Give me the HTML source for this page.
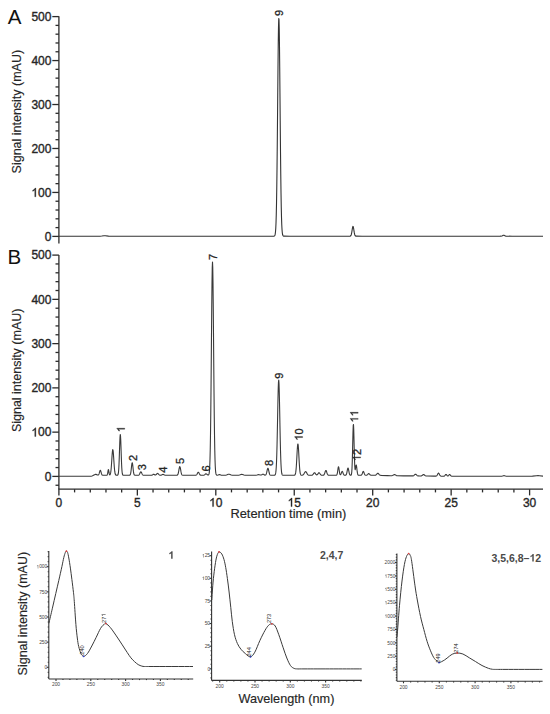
<!DOCTYPE html>
<html><head><meta charset="utf-8"><style>
html,body{margin:0;padding:0;background:#fff;}
svg{display:block;font-family:"Liberation Sans",sans-serif;}
</style></head><body>
<svg width="550" height="714" viewBox="0 0 550 714" font-family="'Liberation Sans', sans-serif">
<rect width="550" height="714" fill="#fff"/>
<!-- panel letters -->
<g fill="#111" font-size="19.4">
<text transform="translate(7.7,24.1) scale(1.06,1)">A</text>
<text transform="translate(7.4,264.1) scale(1.06,1)">B</text>
</g>
<!-- axis titles -->
<g fill="#262626" stroke="#262626" stroke-width="0.15" font-size="12">
<text transform="translate(21.0,173.4) rotate(-90)" textLength="123.5" lengthAdjust="spacingAndGlyphs">Signal intensity (mAU)</text>
<text transform="translate(21.0,432.1) rotate(-90)" textLength="123.5" lengthAdjust="spacingAndGlyphs">Signal intensity (mAU)</text>
<text x="230.4" y="517.5" textLength="116" lengthAdjust="spacingAndGlyphs">Retention time (min)</text>
<text transform="translate(27.3,675.4) rotate(-90)" textLength="123.5" lengthAdjust="spacingAndGlyphs">Signal intensity (mAU)</text>
<text x="238.4" y="702.7" font-size="12.4" textLength="96" lengthAdjust="spacingAndGlyphs">Wavelength (nm)</text>
</g>
<!-- main axes -->
<g stroke="#2b2b2b" stroke-width="1.3" fill="none">
<line x1="58.9" y1="16.3" x2="58.9" y2="243.5"/>
<line x1="52.3" y1="236.4" x2="58.9" y2="236.4"/>
<line x1="55.5" y1="227.61" x2="58.9" y2="227.61"/>
<line x1="55.5" y1="218.82" x2="58.9" y2="218.82"/>
<line x1="55.5" y1="210.02" x2="58.9" y2="210.02"/>
<line x1="55.5" y1="201.23" x2="58.9" y2="201.23"/>
<line x1="52.3" y1="192.44" x2="58.9" y2="192.44"/>
<line x1="55.5" y1="183.65" x2="58.9" y2="183.65"/>
<line x1="55.5" y1="174.86" x2="58.9" y2="174.86"/>
<line x1="55.5" y1="166.06" x2="58.9" y2="166.06"/>
<line x1="55.5" y1="157.27" x2="58.9" y2="157.27"/>
<line x1="52.3" y1="148.48" x2="58.9" y2="148.48"/>
<line x1="55.5" y1="139.69" x2="58.9" y2="139.69"/>
<line x1="55.5" y1="130.9" x2="58.9" y2="130.9"/>
<line x1="55.5" y1="122.1" x2="58.9" y2="122.1"/>
<line x1="55.5" y1="113.31" x2="58.9" y2="113.31"/>
<line x1="52.3" y1="104.52" x2="58.9" y2="104.52"/>
<line x1="55.5" y1="95.73" x2="58.9" y2="95.73"/>
<line x1="55.5" y1="86.94" x2="58.9" y2="86.94"/>
<line x1="55.5" y1="78.14" x2="58.9" y2="78.14"/>
<line x1="55.5" y1="69.35" x2="58.9" y2="69.35"/>
<line x1="52.3" y1="60.56" x2="58.9" y2="60.56"/>
<line x1="55.5" y1="51.77" x2="58.9" y2="51.77"/>
<line x1="55.5" y1="42.98" x2="58.9" y2="42.98"/>
<line x1="55.5" y1="34.18" x2="58.9" y2="34.18"/>
<line x1="55.5" y1="25.39" x2="58.9" y2="25.39"/>
<line x1="52.3" y1="16.6" x2="58.9" y2="16.6"/>
<line x1="58.9" y1="255.1" x2="58.9" y2="489.2"/>
<line x1="55.5" y1="485.25" x2="58.9" y2="485.25"/>
<line x1="52.3" y1="476.4" x2="58.9" y2="476.4"/>
<line x1="55.5" y1="467.55" x2="58.9" y2="467.55"/>
<line x1="55.5" y1="458.7" x2="58.9" y2="458.7"/>
<line x1="55.5" y1="449.84" x2="58.9" y2="449.84"/>
<line x1="55.5" y1="440.99" x2="58.9" y2="440.99"/>
<line x1="52.3" y1="432.14" x2="58.9" y2="432.14"/>
<line x1="55.5" y1="423.29" x2="58.9" y2="423.29"/>
<line x1="55.5" y1="414.44" x2="58.9" y2="414.44"/>
<line x1="55.5" y1="405.58" x2="58.9" y2="405.58"/>
<line x1="55.5" y1="396.73" x2="58.9" y2="396.73"/>
<line x1="52.3" y1="387.88" x2="58.9" y2="387.88"/>
<line x1="55.5" y1="379.03" x2="58.9" y2="379.03"/>
<line x1="55.5" y1="370.18" x2="58.9" y2="370.18"/>
<line x1="55.5" y1="361.32" x2="58.9" y2="361.32"/>
<line x1="55.5" y1="352.47" x2="58.9" y2="352.47"/>
<line x1="52.3" y1="343.62" x2="58.9" y2="343.62"/>
<line x1="55.5" y1="334.77" x2="58.9" y2="334.77"/>
<line x1="55.5" y1="325.92" x2="58.9" y2="325.92"/>
<line x1="55.5" y1="317.06" x2="58.9" y2="317.06"/>
<line x1="55.5" y1="308.21" x2="58.9" y2="308.21"/>
<line x1="52.3" y1="299.36" x2="58.9" y2="299.36"/>
<line x1="55.5" y1="290.51" x2="58.9" y2="290.51"/>
<line x1="55.5" y1="281.66" x2="58.9" y2="281.66"/>
<line x1="55.5" y1="272.8" x2="58.9" y2="272.8"/>
<line x1="55.5" y1="263.95" x2="58.9" y2="263.95"/>
<line x1="52.3" y1="255.1" x2="58.9" y2="255.1"/>
<line x1="58.3" y1="489.2" x2="543" y2="489.2"/>
<line x1="58.9" y1="489.2" x2="58.9" y2="495.4"/>
<line x1="74.59" y1="489.2" x2="74.59" y2="492.4"/>
<line x1="90.28" y1="489.2" x2="90.28" y2="492.4"/>
<line x1="105.97" y1="489.2" x2="105.97" y2="492.4"/>
<line x1="121.66" y1="489.2" x2="121.66" y2="492.4"/>
<line x1="137.35" y1="489.2" x2="137.35" y2="495.4"/>
<line x1="153.04" y1="489.2" x2="153.04" y2="492.4"/>
<line x1="168.73" y1="489.2" x2="168.73" y2="492.4"/>
<line x1="184.42" y1="489.2" x2="184.42" y2="492.4"/>
<line x1="200.11" y1="489.2" x2="200.11" y2="492.4"/>
<line x1="215.8" y1="489.2" x2="215.8" y2="495.4"/>
<line x1="231.49" y1="489.2" x2="231.49" y2="492.4"/>
<line x1="247.18" y1="489.2" x2="247.18" y2="492.4"/>
<line x1="262.87" y1="489.2" x2="262.87" y2="492.4"/>
<line x1="278.56" y1="489.2" x2="278.56" y2="492.4"/>
<line x1="294.25" y1="489.2" x2="294.25" y2="495.4"/>
<line x1="309.94" y1="489.2" x2="309.94" y2="492.4"/>
<line x1="325.63" y1="489.2" x2="325.63" y2="492.4"/>
<line x1="341.32" y1="489.2" x2="341.32" y2="492.4"/>
<line x1="357.01" y1="489.2" x2="357.01" y2="492.4"/>
<line x1="372.7" y1="489.2" x2="372.7" y2="495.4"/>
<line x1="388.39" y1="489.2" x2="388.39" y2="492.4"/>
<line x1="404.08" y1="489.2" x2="404.08" y2="492.4"/>
<line x1="419.77" y1="489.2" x2="419.77" y2="492.4"/>
<line x1="435.46" y1="489.2" x2="435.46" y2="492.4"/>
<line x1="451.15" y1="489.2" x2="451.15" y2="495.4"/>
<line x1="466.84" y1="489.2" x2="466.84" y2="492.4"/>
<line x1="482.53" y1="489.2" x2="482.53" y2="492.4"/>
<line x1="498.22" y1="489.2" x2="498.22" y2="492.4"/>
<line x1="513.91" y1="489.2" x2="513.91" y2="492.4"/>
<line x1="529.6" y1="489.2" x2="529.6" y2="495.4"/>
</g>
<g fill="#262626" stroke="#262626" stroke-width="0.35" font-size="12">
<text x="44.73" y="240.7">0</text>
<path vector-effect="non-scaling-stroke" transform="translate(31.38,196.74) scale(0.00586,-0.00586)" d="M763 0H583V1147Q518 1085 412.5 1023T223 930V1104Q373 1175 485.5 1276T645 1472H763Z"/><text x="38.06" y="196.74">00</text>
<text x="31.38" y="152.78">200</text>
<text x="31.38" y="108.82">300</text>
<text x="31.38" y="64.86">400</text>
<text x="31.38" y="20.9">500</text>
<text x="44.73" y="480.7">0</text>
<path vector-effect="non-scaling-stroke" transform="translate(31.38,436.44) scale(0.00586,-0.00586)" d="M763 0H583V1147Q518 1085 412.5 1023T223 930V1104Q373 1175 485.5 1276T645 1472H763Z"/><text x="38.06" y="436.44">00</text>
<text x="31.38" y="392.18">200</text>
<text x="31.38" y="347.92">300</text>
<text x="31.38" y="303.66">400</text>
<text x="31.38" y="259.4">500</text>
</g>
<g fill="#262626" stroke="#262626" stroke-width="0.35" font-size="12">
<text x="55.56" y="506.6">0</text>
<text x="134.01" y="506.6">5</text>
<path vector-effect="non-scaling-stroke" transform="translate(209.13,506.6) scale(0.00586,-0.00586)" d="M763 0H583V1147Q518 1085 412.5 1023T223 930V1104Q373 1175 485.5 1276T645 1472H763Z"/><text x="215.8" y="506.6">0</text>
<path vector-effect="non-scaling-stroke" transform="translate(287.58,506.6) scale(0.00586,-0.00586)" d="M763 0H583V1147Q518 1085 412.5 1023T223 930V1104Q373 1175 485.5 1276T645 1472H763Z"/><text x="294.25" y="506.6">5</text>
<text x="366.03" y="506.6">20</text>
<text x="444.48" y="506.6">25</text>
<text x="522.93" y="506.6">30</text>
</g>
<!-- traces -->
<path d="M59,236.2 L65.25,236.2 L71.5,236.2 L77.75,236.2 L84,236.2 L90.25,236.2 L96.5,236.2 L100,236.18 L101.75,236.07 L104,235.76 L105.25,235.7 L108.5,236.09 L111,236.19 L117.25,236.2 L123.5,236.2 L129.75,236.2 L136,236.2 L142.25,236.2 L148.5,236.2 L154.75,236.2 L161,236.2 L167.25,236.2 L173.5,236.2 L179.75,236.2 L186,236.2 L192.25,236.2 L198.5,236.2 L204.75,236.2 L211,236.2 L217.25,236.2 L223.5,236.2 L229.75,236.2 L236,236.2 L242.25,236.2 L248.5,236.2 L254.75,236.2 L261,236.2 L267.25,236.2 L273.25,236.2 L274,236.14 L274.25,236.06 L274.5,235.89 L274.75,235.56 L275,234.93 L275.25,233.77 L275.5,231.76 L275.75,228.43 L276,223.18 L276.25,215.3 L276.5,204.09 L276.75,188.95 L277,169.62 L277.25,146.37 L277.5,120.16 L277.75,92.66 L278,66.18 L278.25,43.37 L278.5,26.8 L278.75,18.46 L279,19.4 L279.25,29.51 L279.5,47.51 L279.75,71.27 L280,98.15 L280.25,125.57 L280.5,151.3 L280.75,173.82 L281,192.31 L281.25,206.63 L281.5,217.12 L281.75,224.42 L282,229.23 L282.25,232.25 L282.5,234.06 L282.75,235.09 L283,235.65 L283.25,235.94 L283.75,236.15 L290,236.2 L296.25,236.2 L302.5,236.2 L308.75,236.2 L315,236.2 L321.25,236.2 L327.5,236.2 L333.75,236.2 L340,236.2 L346.25,236.2 L349.5,236.19 L350.25,236.11 L350.5,235.99 L350.75,235.77 L351,235.37 L351.25,234.72 L351.5,233.76 L351.75,232.46 L352,230.91 L352.25,229.27 L352.5,227.8 L352.75,226.77 L353,226.4 L353.25,226.77 L353.5,227.8 L353.75,229.27 L354,230.91 L354.25,232.46 L354.5,233.76 L354.75,234.72 L355,235.37 L355.25,235.77 L355.5,235.99 L356,236.16 L362.25,236.2 L368.5,236.2 L374.75,236.2 L381,236.2 L387.25,236.2 L393.5,236.2 L399.75,236.2 L406,236.2 L412.25,236.2 L418.5,236.2 L424.75,236.2 L431,236.2 L437.25,236.2 L443.5,236.2 L449.75,236.2 L456,236.2 L462.25,236.2 L468.5,236.2 L474.75,236.2 L481,236.2 L487.25,236.2 L493.5,236.2 L499.75,236.2 L501,236.17 L501.75,236.02 L502.5,235.65 L503.25,235.26 L503.75,235.21 L504.25,235.39 L505.25,235.94 L506,236.14 L512.25,236.2 L518.5,236.2 L524.75,236.2 L531,236.2 L537.25,236.2 L543,236.2" fill="none" stroke="#333" stroke-width="1.1" stroke-linejoin="round"/>
<path d="M59,476.3 L65.25,476.3 L71.5,476.3 L77.75,476.3 L84,476.3 L90.25,476.3 L91,476.28 L92,476.01 L93,475.58 L94.5,474.7 L95.25,474.41 L96,474.37 L97.5,474.93 L98,475.01 L98.25,474.96 L98.5,474.8 L98.75,474.46 L99,473.92 L99.25,473.15 L99.75,471.34 L100,470.63 L100.25,470.31 L100.5,470.45 L100.75,471.03 L101,471.89 L101.25,472.83 L101.5,473.68 L101.75,474.33 L102,474.78 L102.25,475.04 L102.75,475.25 L106.25,475.3 L106.75,475.27 L107,475.18 L107.25,474.89 L107.5,474.15 L107.75,472.81 L108,471.09 L108.25,469.75 L108.5,469.61 L108.75,470.75 L109,472.46 L109.25,473.89 L109.5,474.67 L109.75,474.9 L110,474.76 L110.25,474.3 L110.5,473.47 L110.75,472.16 L111,470.21 L111.25,467.57 L111.5,464.26 L111.75,460.49 L112,456.64 L112.25,453.21 L112.5,450.73 L112.75,449.63 L113,450.11 L113.25,452.07 L113.5,455.18 L113.75,458.93 L114,462.79 L114.25,466.32 L114.5,469.24 L114.75,471.46 L115,473.01 L115.25,474.02 L115.5,474.63 L115.75,474.97 L116,475.15 L116.5,475.27 L117.25,475.27 L117.5,475.21 L117.75,475.05 L118,474.64 L118.25,473.77 L118.5,472.05 L118.75,469.04 L119,464.38 L119.25,458.02 L119.75,443.01 L120,437.18 L120.25,434.48 L120.5,435.66 L120.75,440.38 L121,447.41 L121.25,455.09 L121.5,462.02 L121.75,467.39 L122,471.02 L122.25,473.2 L122.5,474.37 L122.75,474.92 L123,475.16 L123.5,475.29 L129,475.3 L129.5,475.26 L129.75,475.18 L130,475.01 L130.25,474.65 L130.5,473.98 L130.75,472.86 L131,471.21 L131.25,469.07 L131.5,466.71 L131.75,464.54 L132,463.09 L132.25,462.72 L132.5,463.56 L132.75,465.35 L133.25,469.98 L133.5,471.94 L133.75,473.37 L134,474.3 L134.25,474.83 L134.5,475.1 L135,475.27 L137.75,475.29 L138.5,475.2 L139,474.92 L139.25,474.65 L139.5,474.26 L140.25,472.6 L140.5,472.13 L140.75,471.85 L141,471.82 L141.25,472.05 L141.5,472.5 L142,473.64 L142.25,474.16 L142.5,474.58 L142.75,474.88 L143.25,475.18 L144,475.29 L150.25,475.3 L151.5,475.26 L152,475.15 L152.5,474.87 L153.25,474.3 L153.5,474.21 L153.75,474.22 L154.25,474.5 L154.75,474.88 L155.25,475.05 L155.75,474.93 L156.25,474.53 L157,473.71 L157.25,473.51 L157.5,473.41 L157.75,473.42 L158,473.55 L158.5,474.03 L159,474.59 L159.5,474.99 L160,475.18 L160.5,475.23 L161,475.16 L161.5,474.97 L162.5,474.42 L163,474.3 L163.5,474.42 L164.5,474.98 L165.25,475.22 L171.5,475.3 L176.25,475.3 L177,475.23 L177.25,475.14 L177.5,474.97 L177.75,474.65 L178,474.12 L178.25,473.33 L178.5,472.23 L178.75,470.89 L179,469.44 L179.25,468.08 L179.5,467.07 L179.75,466.61 L180,466.81 L180.25,467.62 L180.5,468.87 L181,471.72 L181.25,472.92 L181.5,473.84 L181.75,474.47 L182,474.86 L182.25,475.09 L182.75,475.26 L189,475.3 L195,475.3 L195.75,475.24 L196.25,475.07 L196.5,474.88 L196.75,474.6 L197,474.21 L197.75,472.73 L198,472.37 L198.25,472.2 L198.5,472.28 L198.75,472.56 L199.5,474.03 L199.75,474.45 L200,474.78 L200.25,475 L200.75,475.22 L202.25,475.3 L203.25,475.27 L203.75,475.18 L204.25,474.98 L204.75,474.61 L205.5,473.98 L205.75,473.85 L206,473.8 L206.25,473.85 L206.75,474.17 L207.5,474.81 L208,475.05 L208.25,475.06 L208.5,474.95 L208.75,474.63 L209,473.93 L209.25,472.58 L209.5,470.12 L209.75,465.93 L210,459.18 L210.25,448.97 L210.5,434.45 L210.75,415.13 L211,391.12 L211.25,363.46 L211.5,334.2 L211.75,306.24 L212,282.94 L212.25,267.44 L212.5,262 L212.75,267.44 L213,282.94 L213.25,306.24 L213.5,334.2 L213.75,363.46 L214,391.12 L214.25,415.13 L214.5,434.45 L214.75,448.97 L215,459.18 L215.25,465.93 L215.5,470.13 L215.75,472.59 L216,473.95 L216.25,474.66 L216.5,475 L216.75,475.16 L217.25,475.21 L218,475.04 L219,474.65 L219.5,474.6 L220,474.72 L221,475.11 L221.75,475.26 L224.25,475.29 L225.5,475.23 L226.5,475.03 L228.25,474.33 L228.75,474.22 L229.25,474.22 L230,474.42 L231.25,474.94 L232.25,475.19 L234,475.3 L237.25,475.29 L238.5,475.21 L239.5,474.99 L241,474.49 L241.75,474.4 L242.5,474.52 L244,475.02 L245,475.22 L249.5,475.3 L255,475.29 L256,475.23 L257,475.01 L258,474.68 L258.5,474.6 L259.25,474.69 L260.25,475 L260.75,475.07 L261.25,475 L261.75,474.77 L262.5,474.33 L263,474.2 L263.5,474.33 L264.5,474.94 L265,475.11 L265.5,475.05 L265.75,474.87 L266,474.53 L266.25,473.99 L266.5,473.21 L266.75,472.2 L267.25,469.91 L267.5,468.96 L267.75,468.4 L268,468.34 L268.25,468.81 L268.5,469.69 L269,471.98 L269.25,473.03 L269.5,473.86 L269.75,474.45 L270,474.84 L270.25,475.07 L270.75,475.25 L273.75,475.3 L274.5,475.23 L274.75,475.15 L275,474.97 L275.25,474.6 L275.5,473.92 L275.75,472.69 L276,470.61 L276.25,467.32 L276.5,462.4 L276.75,455.5 L277,446.43 L277.25,435.33 L277.5,422.74 L277.75,409.67 L278,397.47 L278.25,387.65 L278.5,381.56 L278.75,380.1 L279,383.48 L279.25,391.2 L279.5,402.15 L279.75,414.87 L280,427.9 L280.25,439.99 L280.5,450.32 L280.75,458.52 L281,464.59 L281.25,468.81 L281.5,471.57 L281.75,473.26 L282,474.24 L282.25,474.78 L282.5,475.06 L283,475.25 L289.25,475.3 L293.75,475.29 L294.5,475.2 L294.75,475.08 L295,474.83 L295.25,474.36 L295.5,473.53 L295.75,472.18 L296,470.12 L296.25,467.23 L296.5,463.48 L296.75,459.04 L297,454.29 L297.25,449.8 L297.5,446.22 L297.75,444.15 L298,443.96 L298.25,445.67 L298.5,448.99 L298.75,453.35 L299,458.1 L299.25,462.64 L299.5,466.54 L299.75,469.61 L300,471.83 L300.25,473.31 L300.5,474.23 L300.75,474.76 L301,475.04 L301.5,475.24 L302.25,475.22 L302.75,475.08 L303.25,474.76 L303.75,474.17 L304.25,473.33 L304.75,472.42 L305,472.03 L305.25,471.75 L305.5,471.61 L305.75,471.63 L306,471.8 L306.25,472.1 L307.25,473.86 L307.75,474.56 L308.25,474.98 L308.75,475.18 L309.75,475.29 L311.25,475.29 L312,475.19 L312.5,474.95 L313,474.46 L313.75,473.34 L314,473.01 L314.25,472.78 L314.5,472.7 L314.75,472.78 L315,473 L315.75,474.1 L316.25,474.68 L316.5,474.83 L316.75,474.89 L317,474.83 L317.25,474.68 L317.75,474.1 L318.25,473.34 L318.5,473 L318.75,472.78 L319,472.7 L319.25,472.78 L319.5,473.01 L320.5,474.46 L321,474.95 L321.5,475.19 L322.25,475.29 L323,475.27 L323.5,475.16 L323.75,475.02 L324,474.77 L324.25,474.39 L324.5,473.84 L324.75,473.13 L325.25,471.52 L325.5,470.86 L325.75,470.47 L326,470.43 L326.25,470.76 L326.5,471.38 L327,472.98 L327.25,473.71 L327.5,474.29 L327.75,474.71 L328,474.98 L328.5,475.22 L334.75,475.3 L336,475.29 L336.5,475.16 L336.75,474.93 L337,474.44 L337.25,473.57 L337.5,472.24 L338,468.71 L338.25,467.33 L338.5,466.8 L338.75,467.32 L339,468.71 L339.25,470.51 L339.5,472.22 L339.75,473.54 L340,474.35 L340.25,474.72 L340.5,474.74 L340.75,474.48 L341,473.99 L341.25,473.32 L341.75,471.89 L342,471.42 L342.25,471.31 L342.5,471.57 L342.75,472.14 L343.25,473.61 L343.5,474.23 L343.75,474.69 L344,474.98 L344.25,475.15 L344.75,475.27 L345.5,475.24 L345.75,475.16 L346,474.98 L346.25,474.63 L346.5,474.04 L346.75,473.15 L347,471.96 L347.5,469.3 L347.75,468.35 L348,468 L348.25,468.35 L348.5,469.3 L349,471.96 L349.25,473.15 L349.5,474.04 L349.75,474.63 L350,474.98 L350.25,475.16 L350.75,475.24 L351,475.15 L351.25,474.84 L351.5,474.01 L351.75,472.11 L352,468.36 L352.25,461.99 L352.5,452.85 L352.75,441.97 L353,431.73 L353.25,425.16 L353.5,424.51 L353.75,430.01 L354,439.7 L354.25,450.54 L354.5,459.84 L354.75,466.11 L355,469.17 L355.25,469.64 L355.5,468.48 L355.75,466.74 L356,465.36 L356.25,465.01 L356.5,465.9 L356.75,467.73 L357,469.94 L357.25,471.96 L357.5,473.46 L357.75,474.41 L358,474.92 L358.25,475.16 L358.75,475.29 L360.5,475.29 L361,475.24 L361.25,475.15 L361.5,474.99 L361.75,474.7 L362,474.26 L362.25,473.65 L362.75,472.22 L363,471.66 L363.25,471.41 L363.5,471.52 L363.75,471.97 L364.25,473.37 L364.5,474.03 L364.75,474.55 L365,474.89 L365.25,475.1 L365.75,475.26 L366.5,475.21 L367,475.01 L367.5,474.6 L368.25,473.8 L368.5,473.64 L368.75,473.6 L369,473.69 L369.5,474.15 L370,474.7 L370.5,475.07 L371,475.24 L374,475.3 L375,475.26 L375.5,475.16 L376,474.9 L376.5,474.44 L377.25,473.58 L377.5,473.39 L377.75,473.3 L378,473.34 L378.25,473.49 L379.25,474.6 L379.75,475 L380.25,475.21 L381.25,475.34 L387.5,475.6 L390.5,475.7 L391.75,475.69 L392.5,475.56 L393,475.33 L394,474.64 L394.5,474.5 L395,474.65 L396,475.36 L396.5,475.6 L397.25,475.74 L403.5,475.83 L409.75,475.9 L412.25,475.91 L413,475.85 L413.5,475.7 L414,475.37 L414.75,474.62 L415.25,474.25 L415.5,474.2 L415.75,474.26 L416.25,474.64 L417,475.4 L417.5,475.74 L418,475.9 L419.75,476 L421,475.96 L421.5,475.85 L422,475.59 L423,474.75 L423.5,474.51 L423.75,474.52 L424.25,474.8 L425,475.47 L425.5,475.8 L426,475.97 L427.5,476.07 L433.75,476.14 L435.5,476.14 L436,476.09 L436.5,475.9 L436.75,475.7 L437,475.4 L437.25,475 L438,473.54 L438.25,473.21 L438.5,473.1 L438.75,473.22 L439,473.55 L439.75,475.02 L440,475.43 L440.25,475.74 L440.75,476.07 L441.5,476.2 L443.5,476.22 L444,476.16 L444.5,475.92 L445,475.4 L445.5,474.73 L445.75,474.49 L446,474.4 L446.25,474.49 L446.5,474.73 L447,475.41 L447.25,475.7 L447.5,475.9 L447.75,475.98 L448,475.96 L448.25,475.81 L448.75,475.26 L449.25,474.66 L449.5,474.51 L449.75,474.53 L450,474.72 L450.75,475.66 L451.25,476.09 L451.75,476.25 L458,476.3 L464.25,476.3 L470.5,476.3 L476.75,476.3 L483,476.3 L489.25,476.3 L495.5,476.3 L500.75,476.3 L501.75,476.24 L502.5,476.07 L503.5,475.68 L504,475.6 L504.5,475.68 L505.5,476.07 L506.25,476.24 L512.5,476.3 L518.75,476.3 L525,476.3 L530.25,476.28 L532.5,476.17 L536.5,475.68 L538,475.6 L539.5,475.68 L542.75,476.1 L543,476.13" fill="none" stroke="#3a3a3a" stroke-width="1.1" stroke-linejoin="round"/>
<g fill="#262626" stroke="#262626" stroke-width="0.3" font-size="11">
<g transform="translate(282.64,15.9) rotate(-90)"><text x="0" y="0">9</text></g>
<g transform="translate(124.74,432.3) rotate(-90)"><path vector-effect="non-scaling-stroke" transform="translate(0,0) scale(0.00537,-0.00537)" d="M763 0H583V1147Q518 1085 412.5 1023T223 930V1104Q373 1175 485.5 1276T645 1472H763Z"/></g>
<g transform="translate(136.54,461) rotate(-90)"><text x="0" y="0">2</text></g>
<g transform="translate(145.74,470.3) rotate(-90)"><text x="0" y="0">3</text></g>
<g transform="translate(167.04,472.8) rotate(-90)"><text x="0" y="0">4</text></g>
<g transform="translate(184.34,464) rotate(-90)"><text x="0" y="0">5</text></g>
<g transform="translate(209.94,471.5) rotate(-90)"><text x="0" y="0">6</text></g>
<g transform="translate(216.84,260.1) rotate(-90)"><text x="0" y="0">7</text></g>
<g transform="translate(272.94,466) rotate(-90)"><text x="0" y="0">8</text></g>
<g transform="translate(283.14,378.7) rotate(-90)"><text x="0" y="0">9</text></g>
<g transform="translate(302.64,440.7) rotate(-90)"><path vector-effect="non-scaling-stroke" transform="translate(0,0) scale(0.00537,-0.00537)" d="M763 0H583V1147Q518 1085 412.5 1023T223 930V1104Q373 1175 485.5 1276T645 1472H763Z"/><text x="6.12" y="0">0</text></g>
<g transform="translate(358.14,422.5) rotate(-90)"><path vector-effect="non-scaling-stroke" transform="translate(0,0) scale(0.00537,-0.00537)" d="M763 0H583V1147Q518 1085 412.5 1023T223 930V1104Q373 1175 485.5 1276T645 1472H763Z"/><path vector-effect="non-scaling-stroke" transform="translate(6.12,0) scale(0.00537,-0.00537)" d="M763 0H583V1147Q518 1085 412.5 1023T223 930V1104Q373 1175 485.5 1276T645 1472H763Z"/></g>
<g transform="translate(360.64,461) rotate(-90)"><path vector-effect="non-scaling-stroke" transform="translate(0,0) scale(0.00537,-0.00537)" d="M763 0H583V1147Q518 1085 412.5 1023T223 930V1104Q373 1175 485.5 1276T645 1472H763Z"/><text x="6.12" y="0">2</text></g>
</g>
<!-- spectra -->
<g stroke="#333" stroke-width="1.1" fill="none">
<line x1="48.8" y1="550.9" x2="48.8" y2="679.0"/>
<line x1="48.8" y1="679.0" x2="193.2" y2="679.0"/>
<line x1="47.699999999999996" y1="677.36" x2="48.8" y2="677.36"/>
<line x1="47.699999999999996" y1="672.33" x2="48.8" y2="672.33"/>
<line x1="46.8" y1="667.3" x2="48.8" y2="667.3"/>
<line x1="47.699999999999996" y1="662.27" x2="48.8" y2="662.27"/>
<line x1="47.699999999999996" y1="657.24" x2="48.8" y2="657.24"/>
<line x1="47.699999999999996" y1="652.21" x2="48.8" y2="652.21"/>
<line x1="47.699999999999996" y1="647.18" x2="48.8" y2="647.18"/>
<line x1="46.8" y1="642.15" x2="48.8" y2="642.15"/>
<line x1="47.699999999999996" y1="637.12" x2="48.8" y2="637.12"/>
<line x1="47.699999999999996" y1="632.09" x2="48.8" y2="632.09"/>
<line x1="47.699999999999996" y1="627.06" x2="48.8" y2="627.06"/>
<line x1="47.699999999999996" y1="622.03" x2="48.8" y2="622.03"/>
<line x1="46.8" y1="617" x2="48.8" y2="617"/>
<line x1="47.699999999999996" y1="611.97" x2="48.8" y2="611.97"/>
<line x1="47.699999999999996" y1="606.94" x2="48.8" y2="606.94"/>
<line x1="47.699999999999996" y1="601.91" x2="48.8" y2="601.91"/>
<line x1="47.699999999999996" y1="596.88" x2="48.8" y2="596.88"/>
<line x1="46.8" y1="591.85" x2="48.8" y2="591.85"/>
<line x1="47.699999999999996" y1="586.82" x2="48.8" y2="586.82"/>
<line x1="47.699999999999996" y1="581.79" x2="48.8" y2="581.79"/>
<line x1="47.699999999999996" y1="576.76" x2="48.8" y2="576.76"/>
<line x1="47.699999999999996" y1="571.73" x2="48.8" y2="571.73"/>
<line x1="46.8" y1="566.7" x2="48.8" y2="566.7"/>
<line x1="47.699999999999996" y1="561.67" x2="48.8" y2="561.67"/>
<line x1="47.699999999999996" y1="556.64" x2="48.8" y2="556.64"/>
<line x1="47.699999999999996" y1="551.61" x2="48.8" y2="551.61"/>
<line x1="56" y1="679.0" x2="56" y2="681"/>
<line x1="62.96" y1="679.0" x2="62.96" y2="680.1"/>
<line x1="69.92" y1="679.0" x2="69.92" y2="680.1"/>
<line x1="76.88" y1="679.0" x2="76.88" y2="680.1"/>
<line x1="83.84" y1="679.0" x2="83.84" y2="680.1"/>
<line x1="90.8" y1="679.0" x2="90.8" y2="681"/>
<line x1="97.76" y1="679.0" x2="97.76" y2="680.1"/>
<line x1="104.72" y1="679.0" x2="104.72" y2="680.1"/>
<line x1="111.68" y1="679.0" x2="111.68" y2="680.1"/>
<line x1="118.64" y1="679.0" x2="118.64" y2="680.1"/>
<line x1="125.6" y1="679.0" x2="125.6" y2="681"/>
<line x1="132.56" y1="679.0" x2="132.56" y2="680.1"/>
<line x1="139.52" y1="679.0" x2="139.52" y2="680.1"/>
<line x1="146.48" y1="679.0" x2="146.48" y2="680.1"/>
<line x1="153.44" y1="679.0" x2="153.44" y2="680.1"/>
<line x1="160.4" y1="679.0" x2="160.4" y2="681"/>
<line x1="167.36" y1="679.0" x2="167.36" y2="680.1"/>
<line x1="174.32" y1="679.0" x2="174.32" y2="680.1"/>
<line x1="181.28" y1="679.0" x2="181.28" y2="680.1"/>
<line x1="188.24" y1="679.0" x2="188.24" y2="680.1"/>
<line x1="211.6" y1="551.6" x2="211.6" y2="680.4"/>
<line x1="211.6" y1="680.4" x2="361.8" y2="680.4"/>
<line x1="210.5" y1="677.85" x2="211.6" y2="677.85"/>
<line x1="210.5" y1="673.32" x2="211.6" y2="673.32"/>
<line x1="209.6" y1="668.8" x2="211.6" y2="668.8"/>
<line x1="210.5" y1="664.28" x2="211.6" y2="664.28"/>
<line x1="210.5" y1="659.75" x2="211.6" y2="659.75"/>
<line x1="210.5" y1="655.23" x2="211.6" y2="655.23"/>
<line x1="210.5" y1="650.7" x2="211.6" y2="650.7"/>
<line x1="209.6" y1="646.18" x2="211.6" y2="646.18"/>
<line x1="210.5" y1="641.66" x2="211.6" y2="641.66"/>
<line x1="210.5" y1="637.13" x2="211.6" y2="637.13"/>
<line x1="210.5" y1="632.61" x2="211.6" y2="632.61"/>
<line x1="210.5" y1="628.08" x2="211.6" y2="628.08"/>
<line x1="209.6" y1="623.56" x2="211.6" y2="623.56"/>
<line x1="210.5" y1="619.04" x2="211.6" y2="619.04"/>
<line x1="210.5" y1="614.51" x2="211.6" y2="614.51"/>
<line x1="210.5" y1="609.99" x2="211.6" y2="609.99"/>
<line x1="210.5" y1="605.46" x2="211.6" y2="605.46"/>
<line x1="209.6" y1="600.94" x2="211.6" y2="600.94"/>
<line x1="210.5" y1="596.42" x2="211.6" y2="596.42"/>
<line x1="210.5" y1="591.89" x2="211.6" y2="591.89"/>
<line x1="210.5" y1="587.37" x2="211.6" y2="587.37"/>
<line x1="210.5" y1="582.84" x2="211.6" y2="582.84"/>
<line x1="209.6" y1="578.32" x2="211.6" y2="578.32"/>
<line x1="210.5" y1="573.8" x2="211.6" y2="573.8"/>
<line x1="210.5" y1="569.27" x2="211.6" y2="569.27"/>
<line x1="210.5" y1="564.75" x2="211.6" y2="564.75"/>
<line x1="210.5" y1="560.22" x2="211.6" y2="560.22"/>
<line x1="209.6" y1="555.7" x2="211.6" y2="555.7"/>
<line x1="212.64" y1="680.4" x2="212.64" y2="681.5"/>
<line x1="219.7" y1="680.4" x2="219.7" y2="682.4"/>
<line x1="226.76" y1="680.4" x2="226.76" y2="681.5"/>
<line x1="233.82" y1="680.4" x2="233.82" y2="681.5"/>
<line x1="240.88" y1="680.4" x2="240.88" y2="681.5"/>
<line x1="247.94" y1="680.4" x2="247.94" y2="681.5"/>
<line x1="255" y1="680.4" x2="255" y2="682.4"/>
<line x1="262.06" y1="680.4" x2="262.06" y2="681.5"/>
<line x1="269.12" y1="680.4" x2="269.12" y2="681.5"/>
<line x1="276.18" y1="680.4" x2="276.18" y2="681.5"/>
<line x1="283.24" y1="680.4" x2="283.24" y2="681.5"/>
<line x1="290.3" y1="680.4" x2="290.3" y2="682.4"/>
<line x1="297.36" y1="680.4" x2="297.36" y2="681.5"/>
<line x1="304.42" y1="680.4" x2="304.42" y2="681.5"/>
<line x1="311.48" y1="680.4" x2="311.48" y2="681.5"/>
<line x1="318.54" y1="680.4" x2="318.54" y2="681.5"/>
<line x1="325.6" y1="680.4" x2="325.6" y2="682.4"/>
<line x1="332.66" y1="680.4" x2="332.66" y2="681.5"/>
<line x1="339.72" y1="680.4" x2="339.72" y2="681.5"/>
<line x1="346.78" y1="680.4" x2="346.78" y2="681.5"/>
<line x1="353.84" y1="680.4" x2="353.84" y2="681.5"/>
<line x1="360.9" y1="680.4" x2="360.9" y2="681.5"/>
<line x1="396.9" y1="553.4" x2="396.9" y2="681.3"/>
<line x1="396.9" y1="681.3" x2="542.6" y2="681.3"/>
<line x1="395.79999999999995" y1="680.3" x2="396.9" y2="680.3"/>
<line x1="395.79999999999995" y1="677.63" x2="396.9" y2="677.63"/>
<line x1="395.79999999999995" y1="674.95" x2="396.9" y2="674.95"/>
<line x1="395.79999999999995" y1="672.28" x2="396.9" y2="672.28"/>
<line x1="394.9" y1="669.6" x2="396.9" y2="669.6"/>
<line x1="395.79999999999995" y1="666.92" x2="396.9" y2="666.92"/>
<line x1="395.79999999999995" y1="664.25" x2="396.9" y2="664.25"/>
<line x1="395.79999999999995" y1="661.57" x2="396.9" y2="661.57"/>
<line x1="395.79999999999995" y1="658.9" x2="396.9" y2="658.9"/>
<line x1="394.9" y1="656.22" x2="396.9" y2="656.22"/>
<line x1="395.79999999999995" y1="653.54" x2="396.9" y2="653.54"/>
<line x1="395.79999999999995" y1="650.87" x2="396.9" y2="650.87"/>
<line x1="395.79999999999995" y1="648.19" x2="396.9" y2="648.19"/>
<line x1="395.79999999999995" y1="645.52" x2="396.9" y2="645.52"/>
<line x1="394.9" y1="642.84" x2="396.9" y2="642.84"/>
<line x1="395.79999999999995" y1="640.16" x2="396.9" y2="640.16"/>
<line x1="395.79999999999995" y1="637.49" x2="396.9" y2="637.49"/>
<line x1="395.79999999999995" y1="634.81" x2="396.9" y2="634.81"/>
<line x1="395.79999999999995" y1="632.14" x2="396.9" y2="632.14"/>
<line x1="394.9" y1="629.46" x2="396.9" y2="629.46"/>
<line x1="395.79999999999995" y1="626.78" x2="396.9" y2="626.78"/>
<line x1="395.79999999999995" y1="624.11" x2="396.9" y2="624.11"/>
<line x1="395.79999999999995" y1="621.43" x2="396.9" y2="621.43"/>
<line x1="395.79999999999995" y1="618.76" x2="396.9" y2="618.76"/>
<line x1="394.9" y1="616.08" x2="396.9" y2="616.08"/>
<line x1="395.79999999999995" y1="613.4" x2="396.9" y2="613.4"/>
<line x1="395.79999999999995" y1="610.73" x2="396.9" y2="610.73"/>
<line x1="395.79999999999995" y1="608.05" x2="396.9" y2="608.05"/>
<line x1="395.79999999999995" y1="605.38" x2="396.9" y2="605.38"/>
<line x1="394.9" y1="602.7" x2="396.9" y2="602.7"/>
<line x1="395.79999999999995" y1="600.02" x2="396.9" y2="600.02"/>
<line x1="395.79999999999995" y1="597.35" x2="396.9" y2="597.35"/>
<line x1="395.79999999999995" y1="594.67" x2="396.9" y2="594.67"/>
<line x1="395.79999999999995" y1="592" x2="396.9" y2="592"/>
<line x1="394.9" y1="589.32" x2="396.9" y2="589.32"/>
<line x1="395.79999999999995" y1="586.64" x2="396.9" y2="586.64"/>
<line x1="395.79999999999995" y1="583.97" x2="396.9" y2="583.97"/>
<line x1="395.79999999999995" y1="581.29" x2="396.9" y2="581.29"/>
<line x1="395.79999999999995" y1="578.62" x2="396.9" y2="578.62"/>
<line x1="394.9" y1="575.94" x2="396.9" y2="575.94"/>
<line x1="395.79999999999995" y1="573.26" x2="396.9" y2="573.26"/>
<line x1="395.79999999999995" y1="570.59" x2="396.9" y2="570.59"/>
<line x1="395.79999999999995" y1="567.91" x2="396.9" y2="567.91"/>
<line x1="395.79999999999995" y1="565.24" x2="396.9" y2="565.24"/>
<line x1="394.9" y1="562.56" x2="396.9" y2="562.56"/>
<line x1="395.79999999999995" y1="559.88" x2="396.9" y2="559.88"/>
<line x1="395.79999999999995" y1="557.21" x2="396.9" y2="557.21"/>
<line x1="395.79999999999995" y1="554.53" x2="396.9" y2="554.53"/>
<line x1="403.5" y1="681.3" x2="403.5" y2="683.3"/>
<line x1="410.66" y1="681.3" x2="410.66" y2="682.4"/>
<line x1="417.82" y1="681.3" x2="417.82" y2="682.4"/>
<line x1="424.98" y1="681.3" x2="424.98" y2="682.4"/>
<line x1="432.14" y1="681.3" x2="432.14" y2="682.4"/>
<line x1="439.3" y1="681.3" x2="439.3" y2="683.3"/>
<line x1="446.46" y1="681.3" x2="446.46" y2="682.4"/>
<line x1="453.62" y1="681.3" x2="453.62" y2="682.4"/>
<line x1="460.78" y1="681.3" x2="460.78" y2="682.4"/>
<line x1="467.94" y1="681.3" x2="467.94" y2="682.4"/>
<line x1="475.1" y1="681.3" x2="475.1" y2="683.3"/>
<line x1="482.26" y1="681.3" x2="482.26" y2="682.4"/>
<line x1="489.42" y1="681.3" x2="489.42" y2="682.4"/>
<line x1="496.58" y1="681.3" x2="496.58" y2="682.4"/>
<line x1="503.74" y1="681.3" x2="503.74" y2="682.4"/>
<line x1="510.9" y1="681.3" x2="510.9" y2="683.3"/>
<line x1="518.06" y1="681.3" x2="518.06" y2="682.4"/>
<line x1="525.22" y1="681.3" x2="525.22" y2="682.4"/>
<line x1="532.38" y1="681.3" x2="532.38" y2="682.4"/>
<line x1="539.54" y1="681.3" x2="539.54" y2="682.4"/>
</g>
<g fill="#444" font-size="4.9">
<text x="44.58" y="669.05">0</text>
<text x="39.13" y="643.9">250</text>
<text x="39.13" y="618.75">500</text>
<text x="39.13" y="593.6">750</text>
<path vector-effect="non-scaling-stroke" transform="translate(36.4,568.45) scale(0.00239,-0.00239)" d="M763 0H583V1147Q518 1085 412.5 1023T223 930V1104Q373 1175 485.5 1276T645 1472H763Z"/><text x="39.13" y="568.45">000</text>
<text x="51.91" y="686.3">200</text>
<text x="86.71" y="686.3">250</text>
<text x="121.51" y="686.3">300</text>
<text x="156.31" y="686.3">350</text>
<text x="207.38" y="670.55">0</text>
<text x="204.65" y="647.93">25</text>
<text x="204.65" y="625.31">50</text>
<text x="204.65" y="602.69">75</text>
<path vector-effect="non-scaling-stroke" transform="translate(201.93,580.07) scale(0.00239,-0.00239)" d="M763 0H583V1147Q518 1085 412.5 1023T223 930V1104Q373 1175 485.5 1276T645 1472H763Z"/><text x="204.65" y="580.07">00</text>
<path vector-effect="non-scaling-stroke" transform="translate(201.93,557.45) scale(0.00239,-0.00239)" d="M763 0H583V1147Q518 1085 412.5 1023T223 930V1104Q373 1175 485.5 1276T645 1472H763Z"/><text x="204.65" y="557.45">25</text>
<text x="215.61" y="687.7">200</text>
<text x="250.91" y="687.7">250</text>
<text x="286.21" y="687.7">300</text>
<text x="321.51" y="687.7">350</text>
<text x="392.68" y="671.35">0</text>
<text x="387.23" y="657.97">250</text>
<text x="387.23" y="644.59">500</text>
<text x="387.23" y="631.21">750</text>
<path vector-effect="non-scaling-stroke" transform="translate(384.5,617.83) scale(0.00239,-0.00239)" d="M763 0H583V1147Q518 1085 412.5 1023T223 930V1104Q373 1175 485.5 1276T645 1472H763Z"/><text x="387.23" y="617.83">000</text>
<path vector-effect="non-scaling-stroke" transform="translate(384.5,604.45) scale(0.00239,-0.00239)" d="M763 0H583V1147Q518 1085 412.5 1023T223 930V1104Q373 1175 485.5 1276T645 1472H763Z"/><text x="387.23" y="604.45">250</text>
<path vector-effect="non-scaling-stroke" transform="translate(384.5,591.07) scale(0.00239,-0.00239)" d="M763 0H583V1147Q518 1085 412.5 1023T223 930V1104Q373 1175 485.5 1276T645 1472H763Z"/><text x="387.23" y="591.07">500</text>
<path vector-effect="non-scaling-stroke" transform="translate(384.5,577.69) scale(0.00239,-0.00239)" d="M763 0H583V1147Q518 1085 412.5 1023T223 930V1104Q373 1175 485.5 1276T645 1472H763Z"/><text x="387.23" y="577.69">750</text>
<text x="384.5" y="564.31">2000</text>
<text x="399.41" y="688.6">200</text>
<text x="435.21" y="688.6">250</text>
<text x="471.01" y="688.6">300</text>
<text x="506.81" y="688.6">350</text>
</g>
<g fill="none" stroke="#3a3a3a" stroke-width="1.0" stroke-linejoin="round">
<path d="M48.9,623.3 C49.48,620.78 51.25,613.18 52.4,608.2 C53.55,603.22 54.73,598.03 55.8,593.4 C56.87,588.77 57.78,584.87 58.8,580.4 C59.82,575.93 61.07,570.42 61.9,566.6 C62.73,562.78 63.23,559.83 63.8,557.5 C64.37,555.17 64.87,553.67 65.3,552.6 C65.73,551.53 66.02,551.12 66.4,551.1 C66.78,551.08 67.2,551.35 67.6,552.5 C68,553.65 68.33,555.4 68.8,558 C69.27,560.6 69.88,564.5 70.4,568.1 C70.92,571.7 71.38,575.5 71.9,579.6 C72.42,583.7 73.1,589.05 73.5,592.7 C73.9,596.35 73.9,596.2 74.3,601.5 C74.7,606.8 75.4,618.42 75.9,624.5 C76.4,630.58 76.83,634.33 77.3,638 C77.77,641.67 78.1,643.97 78.7,646.5 C79.3,649.03 80.08,651.57 80.9,653.2 C81.72,654.83 82.52,656.23 83.6,656.3 C84.68,656.37 86.03,655.32 87.4,653.6 C88.77,651.88 90.33,648.72 91.8,646 C93.27,643.28 94.75,640.22 96.2,637.3 C97.65,634.38 99.23,630.62 100.5,628.5 C101.77,626.38 102.88,625.42 103.8,624.6 C104.72,623.78 104.92,623.12 106,623.6 C107.08,624.08 108.67,625.58 110.3,627.5 C111.93,629.42 113.8,632.2 115.8,635.1 C117.8,638 120.38,641.98 122.3,644.9 C124.22,647.82 125.87,650.45 127.3,652.6 C128.73,654.75 129.7,656.3 130.9,657.8 C132.1,659.3 133.28,660.47 134.5,661.6 C135.72,662.73 136.98,663.85 138.2,664.6 C139.42,665.35 140.75,665.78 141.8,666.1 C142.85,666.42 143.13,666.43 144.5,666.5 C145.87,666.57 141.92,666.5 150,666.5 C158.08,666.5 185.83,666.5 193,666.5"/>
<path d="M211.8,600 C211.88,598.67 212.03,595.57 212.3,592 C212.57,588.43 212.93,583.07 213.4,578.6 C213.87,574.13 214.53,568.93 215.1,565.2 C215.67,561.47 216.15,558.42 216.8,556.2 C217.45,553.98 218.17,552.27 219,551.9 C219.83,551.53 220.97,552.72 221.8,554 C222.63,555.28 223.35,557.37 224,559.6 C224.65,561.83 225.13,564.23 225.7,567.4 C226.27,570.57 226.83,574.5 227.4,578.6 C227.97,582.7 228.53,587.15 229.1,592 C229.67,596.85 230.27,602.77 230.8,607.7 C231.33,612.63 231.68,617.1 232.3,621.6 C232.92,626.1 233.65,631.05 234.5,634.7 C235.35,638.35 236.32,641.07 237.4,643.5 C238.48,645.93 239.67,647.62 241,649.3 C242.33,650.98 243.82,652.35 245.4,653.6 C246.98,654.85 248.93,657.03 250.5,656.8 C252.07,656.57 253.23,654.92 254.8,652.2 C256.37,649.48 258.2,644.13 259.9,640.5 C261.6,636.87 263.55,632.93 265,630.4 C266.45,627.87 267.47,626.4 268.6,625.3 C269.73,624.2 270.7,623.68 271.8,623.8 C272.9,623.92 274.03,624.18 275.2,626 C276.37,627.82 277.47,631.07 278.8,634.7 C280.13,638.33 281.87,643.92 283.2,647.8 C284.53,651.68 285.58,655.03 286.8,658 C288.02,660.97 289.28,663.87 290.5,665.6 C291.72,667.33 292.9,667.85 294.1,668.4 C295.3,668.95 295.88,668.82 297.7,668.9 C299.52,668.98 294.33,668.9 305,668.9 C315.67,668.9 352.25,668.9 361.7,668.9"/>
<path d="M397,637 C397.1,635.83 397.18,635.25 397.6,630 C398.02,624.75 398.77,613.67 399.5,605.5 C400.23,597.33 401.18,587.83 402,581 C402.82,574.17 403.65,568.58 404.4,564.5 C405.15,560.42 405.8,558.32 406.5,556.5 C407.2,554.68 407.97,553.77 408.6,553.6 C409.23,553.43 409.78,554.22 410.3,555.5 C410.82,556.78 410.92,556.25 411.7,561.3 C412.48,566.35 414.07,579.35 415,585.8 C415.93,592.25 416.38,594.9 417.3,600 C418.22,605.1 419.42,611.5 420.5,616.4 C421.58,621.3 422.7,625.23 423.8,629.4 C424.9,633.57 426.02,637.93 427.1,641.4 C428.18,644.87 429.22,647.55 430.3,650.2 C431.38,652.85 432.5,655.48 433.6,657.3 C434.7,659.12 435.98,660.22 436.9,661.1 C437.82,661.98 437.83,662.78 439.1,662.6 C440.37,662.42 442.78,661.07 444.5,660 C446.22,658.93 448.03,657.2 449.4,656.2 C450.77,655.2 451.4,654.53 452.7,654 C454,653.47 455.5,653 457.2,653 C458.9,653 460.88,653.2 462.9,654 C464.92,654.8 467.18,656.53 469.3,657.8 C471.42,659.07 473.48,660.32 475.6,661.6 C477.72,662.88 479.87,664.38 482,665.5 C484.13,666.62 486.73,667.68 488.4,668.3 C490.07,668.92 490.95,669.02 492,669.2 C493.05,669.38 492.53,669.37 494.7,669.4 C496.87,669.43 497.05,669.4 505,669.4 C512.95,669.4 536.17,669.4 542.4,669.4"/>
</g>
<g fill="#e04040">
<circle cx="66.4" cy="551.2" r="0.9"/><circle cx="106" cy="623.6" r="0.9"/>
<circle cx="219" cy="551.9" r="0.9"/><circle cx="271.8" cy="623.8" r="0.9"/>
<circle cx="408.6" cy="553.6" r="0.9"/><circle cx="457.2" cy="653" r="0.9"/>
</g>
<g fill="#3040d0">
<circle cx="83.6" cy="656.3" r="0.9"/><circle cx="250.5" cy="656.8" r="0.9"/><circle cx="439.1" cy="662.6" r="0.9"/>
</g>
<g fill="#222" font-size="5.6">
<g transform="translate(83.8,654.7) rotate(-90)"><text x="0" y="0">240</text></g>
<g transform="translate(105.6,622.9) rotate(-90)"><text x="0" y="0">27</text><path vector-effect="non-scaling-stroke" transform="translate(6.23,0) scale(0.00273,-0.00273)" d="M763 0H583V1147Q518 1085 412.5 1023T223 930V1104Q373 1175 485.5 1276T645 1472H763Z"/></g>
<g transform="translate(250.7,656.5) rotate(-90)"><text x="0" y="0">244</text></g>
<g transform="translate(271.4,623.1) rotate(-90)"><text x="0" y="0">273</text></g>
<g transform="translate(439.8,662.7) rotate(-90)"><text x="0" y="0">249</text></g>
<g transform="translate(457.5,652.7) rotate(-90)"><text x="0" y="0">274</text></g>
</g>
<g fill="#4a4a4a" font-size="10.5" font-weight="bold">
<path vector-effect="non-scaling-stroke" transform="translate(168.2,558.7) scale(0.00513,-0.00513)" d="M856 0H575V1059Q421 915 212 846V1101Q322 1137 451 1237T628 1472H856Z"/>
<text x="320" y="559.1">2,4,7</text>
<text x="491.4" y="561.5">3,5,6,8–</text><path vector-effect="non-scaling-stroke" transform="translate(529.35,561.5) scale(0.00513,-0.00513)" d="M856 0H575V1059Q421 915 212 846V1101Q322 1137 451 1237T628 1472H856Z"/><text x="535.18" y="561.5">2</text>
</g>
</svg>
</body></html>
